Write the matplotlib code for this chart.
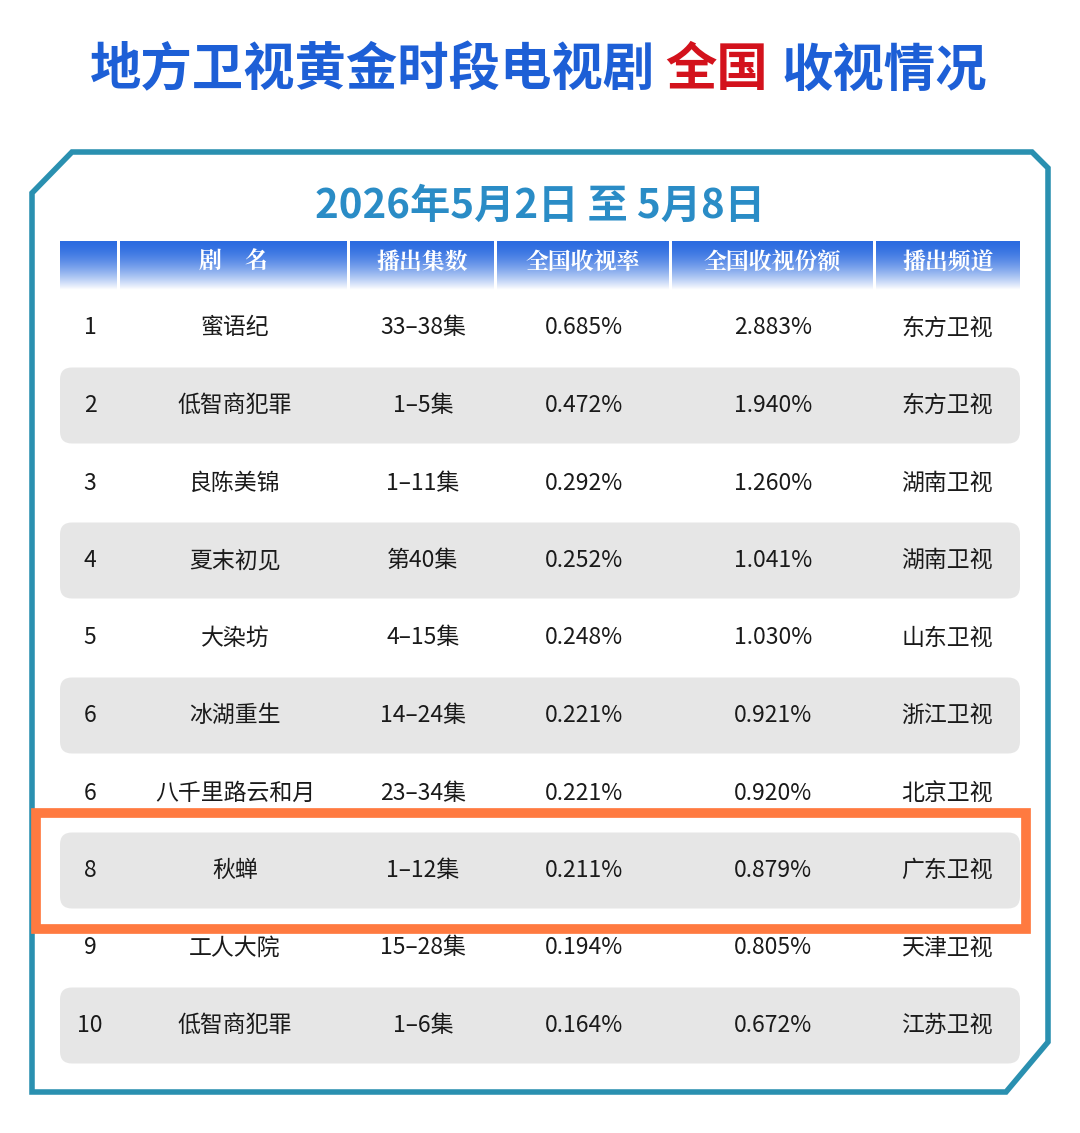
import matplotlib.pyplot as plt
import numpy as np
from matplotlib.patches import FancyBboxPatch, Rectangle, Polygon

plt.rcParams['font.family'] = ['Noto Sans CJK SC', 'DejaVu Sans']

headers = ['', '剧    名', '播出集数', '全国收视率', '全国收视份额', '播出频道']
ranks = ['1', '2', '3', '4', '5', '6', '6', '8', '9', '10']
titles = ['蜜语纪', '低智商犯罪', '良陈美锦', '夏末初见', '大染坊', '冰湖重生',
          '八千里路云和月', '秋蝉', '工人大院', '低智商犯罪']
episodes = ['33–38集', '1–5集', '1–11集', '第40集', '4–15集', '14–24集',
            '23–34集', '1–12集', '15–28集', '1–6集']
ratings = ['0.685%', '0.472%', '0.292%', '0.252%', '0.248%', '0.221%',
           '0.221%', '0.211%', '0.194%', '0.164%']
shares = ['2.883%', '1.940%', '1.260%', '1.041%', '1.030%', '0.921%',
          '0.920%', '0.879%', '0.805%', '0.672%']
channels = ['东方卫视', '东方卫视', '湖南卫视', '湖南卫视', '山东卫视', '浙江卫视',
            '北京卫视', '广东卫视', '天津卫视', '江苏卫视']
highlight = 7

W, H = 1080, 1133
fig = plt.figure(figsize=(W / 100, H / 100), dpi=100)
ax = fig.add_axes([0, 0, 1, 1])
ax.set_xlim(0, W)
ax.set_ylim(H, 0)
ax.axis('off')

# title
blue = '#1d5fd6'
ax.text(655, 70, '地方卫视黄金时段电视剧', ha='right', va='center', fontsize=37,
        fontweight='bold', color=blue)
ax.text(717, 70, '全国', ha='center', va='center', fontsize=37,
        fontweight='bold', color='#d3121c')
ax.text(782, 70, '收视情况', ha='left', va='center', fontsize=37,
        fontweight='bold', color=blue)

# frame
frame = [(72, 152), (1032, 152), (1048, 168), (1048, 1042), (1006, 1092),
         (32, 1092), (32, 193)]
ax.add_patch(Polygon(frame, closed=True, fill=False, edgecolor='#2a90b0', lw=4))

ax.text(540, 206, '2026年5月2日 至 5月8日', ha='center', va='center', fontsize=29,
        fontweight='bold', color='#2a8cc6')

# header
col_edges = [(60, 117), (120, 347), (350, 494), (497, 669), (672, 873), (876, 1020)]
grad = np.linspace(0, 1, 64).reshape(-1, 1)
top = np.array([0.17, 0.42, 0.88])
bot = np.array([1.0, 1.0, 1.0])
img = top + (bot - top) * grad[..., None] ** 1.6
img = img.reshape(64, 1, 3)
for (x0, x1), h in zip(col_edges, headers):
    ax.imshow(img, extent=(x0, x1, 290, 241), aspect='auto', zorder=1)
    ax.text((x0 + x1) / 2, 262, h, ha='center', va='center', fontsize=16.5,
            fontweight='bold', color='white', zorder=2,
            family=['Noto Serif CJK SC', 'Noto Sans CJK SC'])

# rows
col_x = [90, 235, 423, 584, 773, 947]
row0, step = 328, 77.5
for i in range(len(ranks)):
    y = row0 + i * step
    if i % 2 == 1:
        ax.add_patch(FancyBboxPatch((60 + 12, y - 38 + 12), 960 - 24, 76 - 24,
                                    boxstyle='round,pad=12', fc='#e6e6e6', ec='none', zorder=1))
    vals = [ranks[i], titles[i], episodes[i], ratings[i], shares[i], channels[i]]
    for x, v in zip(col_x, vals):
        ax.text(x, y, v, ha='center', va='center', fontsize=16.5, fontweight='medium',
                color='#1a1a1a', zorder=3)

yh = row0 + highlight * step
ax.add_patch(Rectangle((36, yh - 58), 990, 116, fill=False, ec='#ff7a40', lw=7, zorder=4))

fig.savefig('out.png', dpi=100)
